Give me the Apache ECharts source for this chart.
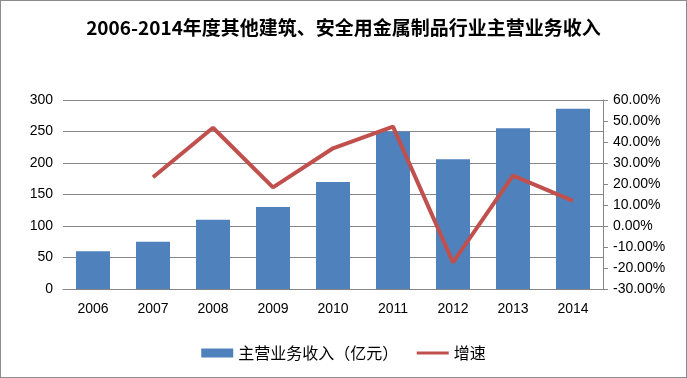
<!DOCTYPE html>
<html><head><meta charset="utf-8">
<script src="https://cdn.jsdelivr.net/npm/echarts@6/dist/echarts.min.js"></script>
<style>
html,body{margin:0;padding:0;background:#fff;}
#c{width:685px;height:376px;border:1px solid #8c8c8c;}
</style></head>
<body><div id="c"></div>
<script>
const categories = ['2006','2007','2008','2009','2010','2011','2012','2013','2014'];
const revenue = [60, 75, 110, 130, 170, 250, 206, 255, 286];
const growth = [null, 23.2, 46.8, 18.4, 37.0, 47.3, -17.3, 24.0, 12.0];
const leftTicks = [0, 50, 100, 150, 200, 250, 300];
const rightTicks = [-30, -20, -10, 0, 10, 20, 30, 40, 50, 60];

const chart = echarts.init(document.getElementById('c'));
const font = '"Liberation Sans", "Noto Sans CJK SC", sans-serif';
chart.setOption({
  animation: false,
  title: {
    text: '2006-2014年度其他建筑、安全用金属制品行业主营业务收入',
    left: 'center', top: 12,
    textStyle: {fontSize: 19, fontWeight: 'bold', color: '#000', fontFamily: '"Noto Sans CJK SC", sans-serif'}
  },
  legend: {
    top: 339, left: 'center', itemGap: 17, itemWidth: 32, itemHeight: 9,
    textStyle: {fontSize: 16, color: '#000', fontFamily: '"Noto Sans CJK SC", sans-serif'},
    data: [
      {name: '主营业务收入（亿元）', icon: 'rect'},
      {name: '增速', itemStyle: {opacity: 0}, lineStyle: {width: 3}}
    ]
  },
  grid: {left: 62, right: 83, top: 99, bottom: 88},
  xAxis: {
    type: 'category', data: categories,
    axisLine: {lineStyle: {color: '#868686'}},
    axisTick: {show: false},
    axisLabel: {color: '#000', fontSize: 14, margin: 13, fontFamily: font}
  },
  yAxis: [{
    type: 'value', min: 0, max: 300, interval: 50,
    axisLine: {show: false}, axisTick: {show: false},
    splitLine: {lineStyle: {color: '#868686'}},
    axisLabel: {color: '#000', fontSize: 14, margin: 10, fontFamily: font}
  }, {
    type: 'value', min: -30, max: 60, interval: 10, position: 'right',
    axisLine: {show: true, lineStyle: {color: '#868686'}},
    axisTick: {show: true, length: 5, lineStyle: {color: '#868686'}},
    splitLine: {show: false},
    axisLabel: {color: '#000', fontSize: 14, margin: 10, fontFamily: font,
      formatter: v => v.toFixed(2) + '%'}
  }],
  series: [{
    name: '主营业务收入（亿元）', type: 'bar', data: revenue, barWidth: 34,
    itemStyle: {color: '#4F81BD'}
  }, {
    name: '增速', type: 'line', yAxisIndex: 1, data: growth,
    symbol: 'none', lineStyle: {color: '#C0504D', width: 4},
    itemStyle: {color: '#C0504D'}
  }]
});
</script></body></html>
